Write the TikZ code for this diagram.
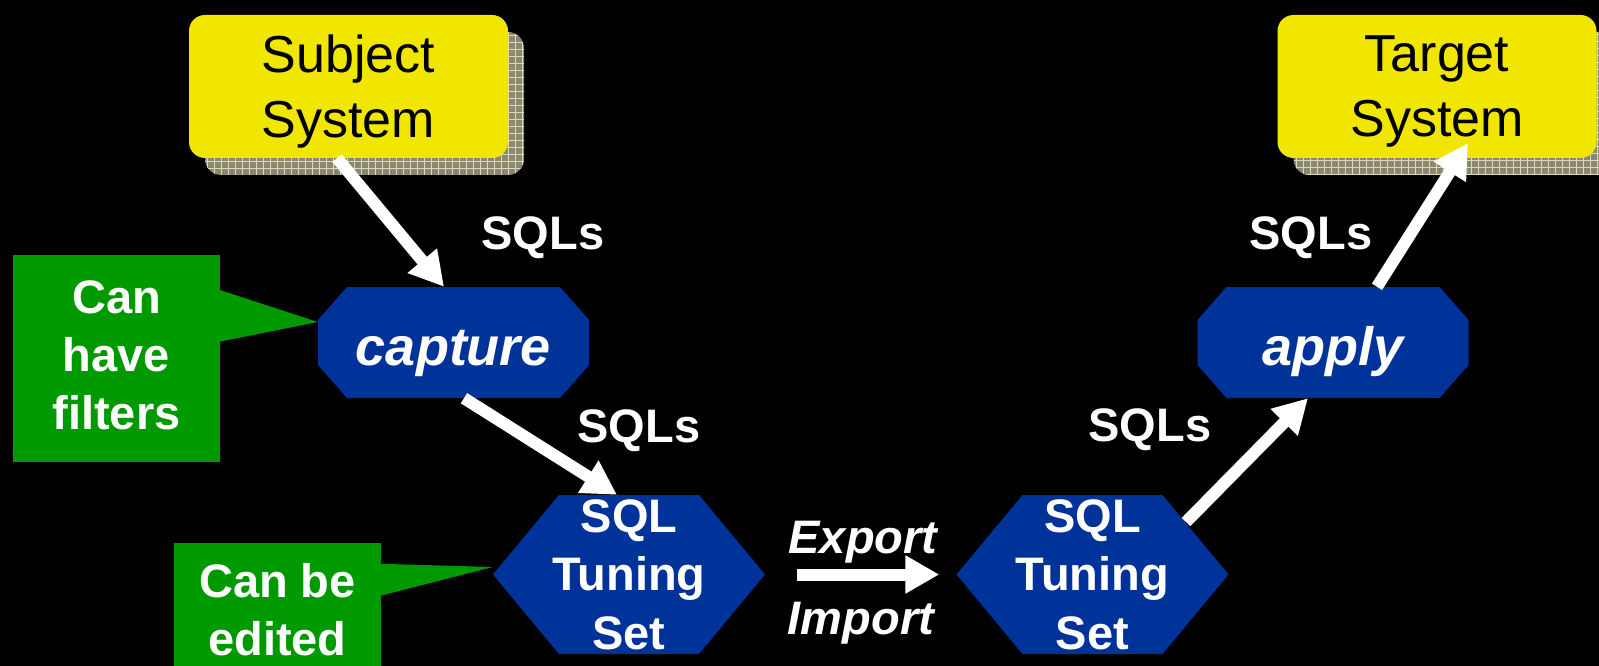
\documentclass[tikz,border=0pt]{standalone}
\usepackage{fontspec}
\setmainfont{Liberation Sans}
\usetikzlibrary{arrows.meta,calc,shadows}

\definecolor{sysyellow}{RGB}{240,230,0}
\definecolor{shadowgray}{RGB}{138,136,112}
\definecolor{gridline}{RGB}{222,218,180}
\definecolor{stsblue}{RGB}{0,51,153}
\definecolor{notegreen}{RGB}{0,153,0}

\begin{document}
\begin{tikzpicture}[x=1pt, y=-1pt, >={Triangle[length=34pt,width=36pt]},
    sysbox/.style={fill=sysyellow, rounded corners=16pt, minimum width=319pt, minimum height=143pt,
      inner sep=0pt, align=center, text depth=-5pt, font=\fontsize{52}{65}\selectfont,
      drop shadow={shadow xshift=16pt, shadow yshift=-17pt, opacity=1, fill=shadowgray,
        path picture={\draw[gridline, line width=0.8pt, step=7pt] (path picture bounding box.south west) grid (path picture bounding box.north east);}}},
    octbox/.style={minimum width=271pt, minimum height=111pt, inner sep=0pt, text=white,
      text height=45pt, text depth=0pt, font=\fontsize{54}{62}\bfseries\itshape\selectfont,
      path picture={\fill[stsblue] ([xshift=29pt]path picture bounding box.north west)
        -- ([xshift=-29pt]path picture bounding box.north east) -- ([yshift=-33pt]path picture bounding box.north east)
        -- ([yshift=33pt]path picture bounding box.south east) -- ([xshift=-29pt]path picture bounding box.south east)
        -- ([xshift=29pt]path picture bounding box.south west) -- ([yshift=33pt]path picture bounding box.south west)
        -- ([yshift=-33pt]path picture bounding box.north west) -- cycle;}},
    hexbox/.style={minimum width=272pt, minimum height=159pt, inner sep=0pt, text=white, align=center,
      text depth=0pt, font=\fontsize{47}{58.5}\bfseries\selectfont,
      path picture={\fill[stsblue] (path picture bounding box.west)
        -- ([xshift=66pt]path picture bounding box.north west) -- ([xshift=-66pt]path picture bounding box.north east)
        -- (path picture bounding box.east) -- ([xshift=-66pt]path picture bounding box.south east)
        -- ([xshift=66pt]path picture bounding box.south west) -- cycle;}},
    notebox/.style={fill=notegreen, minimum width=207pt, inner sep=0pt, text=white, align=center,
      font=\fontsize{47}{58}\bfseries\selectfont},
    flowlabel/.style={text=white, anchor=base, font=\fontsize{47}{57}\bfseries\selectfont},
    bigarrow/.style={->, white, line width=12pt}]

    \useasboundingbox[fill=black] (0,0) rectangle (1599,666);
    \clip (0,0) rectangle (1599,666);

    % systems
    \node[sysbox] (subj) at (348.5,86.5) {Subject\\System};
    \node[sysbox] (targ) at (1437,86.5) {Target\\System};

    % steps
    \node[octbox] (cap) at (453.5,342.5) {capture};
    \node[octbox] (app) at (1333,342.5) {apply};
    \node[hexbox] (sts1) at (629,574.5) {SQL\\Tuning\\Set};
    \node[hexbox] (sts2) at (1092.5,574.5) {SQL\\Tuning\\Set};

    % callouts
    \node[notebox, minimum height=207pt, text depth=7pt] (filt) at (116.5,358.5) {Can\\have\\filters};
    \node[notebox, minimum height=134pt] (edit) at (277.5,610) {Can be\\edited};
    \fill[notegreen] ([xshift=-1pt,yshift=-35pt]filt.north east) -- ([yshift=20.5pt]cap.west)
        -- ([xshift=-1pt,yshift=-87pt]filt.north east) -- cycle;
    \fill[notegreen] ([xshift=-1pt,yshift=-21pt]edit.north east) -- ([yshift=7.5pt]sts1.west)
        -- ([xshift=-1pt,yshift=-53pt]edit.north east) -- cycle;

    \draw[bigarrow] ([xshift=-11.5pt]subj.south) -- ([xshift=-9.5pt]cap.north);
    \draw[bigarrow] ([xshift=10.5pt]cap.south) -- ([xshift=-12pt]sts1.north);
    \draw[bigarrow] ([xshift=32pt]sts1.east) -- ([xshift=-17pt]sts2.west);
    \draw[bigarrow] ([xshift=93.5pt,yshift=52.5pt]sts2.center) -- ([xshift=-25pt]app.south);
    \draw[bigarrow] ([xshift=44pt]app.north) -- ([xshift=31pt,yshift=15pt]targ.south);

    \node[flowlabel] (sqls1) at (543,249) {SQLs};
    \node[flowlabel] (sqls2) at (639,442) {SQLs};
    \node[flowlabel] (sqls3) at (1150,441) {SQLs};
    \node[flowlabel] (sqls4) at (1311,249) {SQLs};
    \node[flowlabel, font=\fontsize{47}{57}\bfseries\itshape\selectfont] (expo) at (863,553) {Export};
    \node[flowlabel, font=\fontsize{47}{57}\bfseries\itshape\selectfont] (impo) at (861,634) {Import};

\end{tikzpicture}
\end{document}
